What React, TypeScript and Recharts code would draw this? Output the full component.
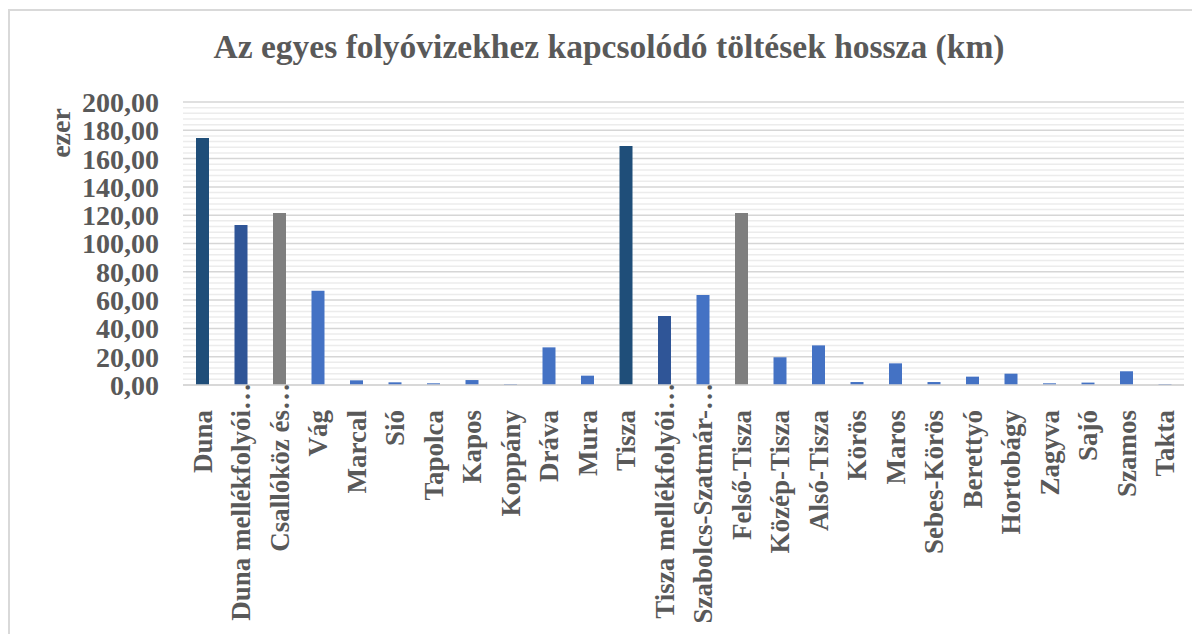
import React from "react";
import { BarChart, Bar, XAxis, YAxis, CartesianGrid, Cell } from "recharts";

const categories = [
  "Duna", "Duna mellékfolyói…", "Csallóköz és…", "Vág", "Marcal", "Sió", "Tapolca", "Kapos",
  "Koppány", "Dráva", "Mura", "Tisza", "Tisza mellékfolyói…", "Szabolcs-Szatmár-…", "Felső-Tisza",
  "Közép-Tisza", "Alsó-Tisza", "Körös", "Maros", "Sebes-Körös", "Berettyó", "Hortobágy", "Zagyva",
  "Sajó", "Szamos", "Takta",
];
const values = [
  174.5, 113.1, 121.6, 66.6, 3.3, 1.9, 1.2, 3.5,
  0.7, 26.6, 6.6, 168.9, 48.8, 63.6, 121.6,
  19.6, 28.0, 2.1, 15.3, 2.1, 5.9, 8.0, 1.2,
  1.7, 9.7, 0.7,
];
const colorGroups = [
  "dark", "medium", "gray", "light", "light", "light", "light", "light",
  "light", "light", "light", "dark", "medium", "light", "gray",
  "light", "light", "light", "light", "light", "light", "light", "light",
  "light", "light", "light",
];
const yTicks = [0, 20, 40, 60, 80, 100, 120, 140, 160, 180, 200];
const minorTicks = [4, 8, 12, 16, 24, 28, 32, 36, 44, 48, 52, 56, 64, 68, 72, 76, 84, 88, 92, 96, 104, 108, 112, 116, 124, 128, 132, 136, 144, 148, 152, 156, 164, 168, 172, 176, 184, 188, 192, 196];

const palette: Record<string, string> = {
  dark: "#1F4E79",
  medium: "#2F5597",
  gray: "#7F7F7F",
  light: "#4472C4",
};

const data = categories.map((name, i) => ({ name, value: values[i], group: colorGroups[i] }));

const FONT = "'Liberation Serif', 'Times New Roman', serif";
const TXT = "#595959";

const XTick = (props: any) => {
  const { x, y, payload } = props;
  const label: string = payload.value;
  const truncated = label.endsWith("…");
  const main = truncated ? label.slice(0, -1) : label;
  return (
    <g transform={`translate(${x},${y})`}>
      <text
        transform="rotate(-90)"
        x={-17}
        y={0}
        dy="0.35em"
        textAnchor="end"
        fill={TXT}
        fontFamily={FONT}
        fontWeight="bold"
        fontSize={27}
      >
        {main}
      </text>
      {truncated && (
        <text
          transform="rotate(-90)"
          x={-17}
          y={0}
          dy="0.35em"
          textAnchor="start"
          fill={TXT}
          fontFamily={FONT}
          fontWeight="bold"
          fontSize={27}
        >
          …
        </text>
      )}
    </g>
  );
};

const fmt = (v: number) => v.toFixed(2).replace(".", ",");

export default function App() {
  return (
    <div style={{ position: "relative", width: 1192, height: 626, overflow: "hidden", background: "#fff" }}>
      <div
        style={{
          position: "absolute",
          top: 1,
          left: 0,
          width: 1400,
          height: 900,
          border: "2px solid #d9d9d9",
          boxSizing: "border-box",
        }}
      />
      <div style={{ position: "absolute", top: 0, left: 0 }}>
        <BarChart
          width={1192}
          height={626}
          data={data}
          margin={{ top: 94, right: 16, bottom: 9, left: 0 }}
        >
          <CartesianGrid vertical={false} stroke="#ececec" strokeWidth={1.5} horizontalValues={minorTicks} />
          <CartesianGrid vertical={false} stroke="#d6d6d6" strokeWidth={1.5} horizontalValues={yTicks} />
          <XAxis
            dataKey="name"
            interval={0}
            height={240}
            tick={<XTick />}
            tickLine={false}
            axisLine={{ stroke: "#d6d6d6", strokeWidth: 1.5 }}
          />
          <YAxis
            width={175}
            domain={[0, 200]}
            ticks={yTicks}
            interval={0}
            tickFormatter={fmt}
            tickLine={false}
            axisLine={false}
            tickMargin={18}
            tick={{ fill: TXT, fontFamily: FONT, fontWeight: "bold", fontSize: 28 }}
          />
          <Bar dataKey="value" barSize={13} isAnimationActive={false}>
            {data.map((d, i) => (
              <Cell key={i} fill={palette[d.group]} />
            ))}
          </Bar>
        </BarChart>
      </div>
      <svg
        width={1192}
        height={626}
        style={{ position: "absolute", top: 0, left: 0, pointerEvents: "none" }}
      >
        <text
          x={601}
          y={50}
          textAnchor="middle"
          fill={TXT}
          fontFamily={FONT}
          fontWeight="bold"
          fontSize={33.5}
        >
          Az egyes folyóvizekhez kapcsolódó töltések hossza (km)
        </text>
        <text
          x={62}
          y={125}
          transform="rotate(-90, 62, 125)"
          textAnchor="middle"
          fill={TXT}
          fontFamily={FONT}
          fontWeight="bold"
          fontSize={28}
        >
          ezer
        </text>
      </svg>
    </div>
  );
}
